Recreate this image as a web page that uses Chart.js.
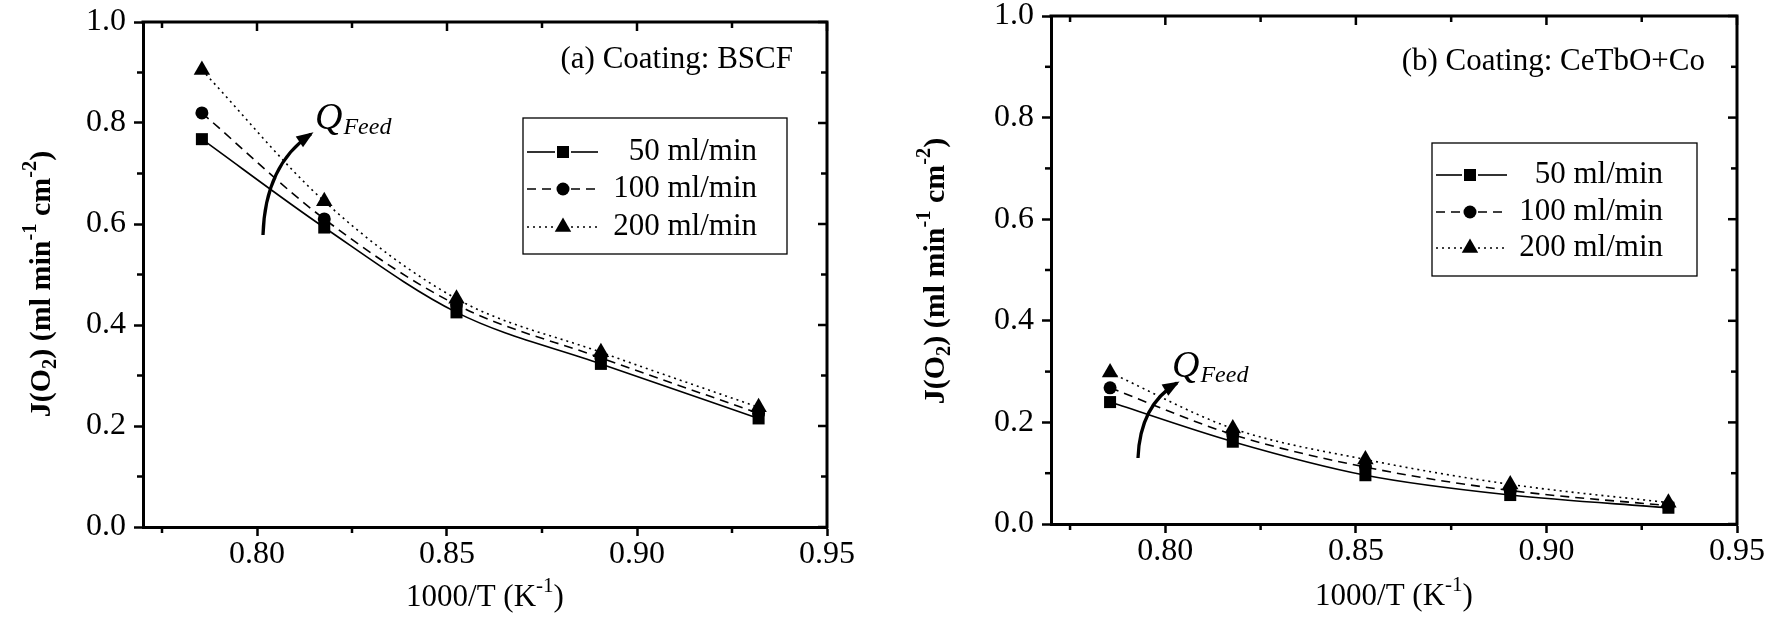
<!DOCTYPE html>
<html>
<head>
<meta charset="utf-8">
<script src="https://cdn.jsdelivr.net/npm/chart.js@4.4.1/dist/chart.umd.min.js"></script>
<style>
html,body{margin:0;padding:0;background:#fff;}
#wrap{position:relative;width:1780px;height:622px;overflow:hidden;}
canvas{position:absolute;top:0;}
</style>
</head>
<body>
<div id="wrap">
  <canvas id="chartA" width="890" height="622" style="left:0"></canvas>
  <canvas id="chartB" width="890" height="622" style="left:890px"></canvas>
</div>
<script>
// x축: 1000/T (K^-1)
const invT = [0.7855, 0.8177, 0.8525, 0.8905, 0.9320]
const seriesLabels = ['50 ml/min', '100 ml/min', '200 ml/min']

// (a) Coating: BSCF
const bscf50 = [0.768, 0.593, 0.425, 0.323, 0.215]
const bscf100 = [0.820, 0.610, 0.440, 0.335, 0.225]
const bscf200 = [0.905, 0.645, 0.452, 0.346, 0.237]

// (b) Coating: CeTbO+Co
const cetbo50 = [0.240, 0.162, 0.096, 0.057, 0.032]
const cetbo100 = [0.268, 0.176, 0.112, 0.066, 0.036]
const cetbo200 = [0.298, 0.188, 0.127, 0.078, 0.042]

// 눈금
const xTicks = [0.80, 0.85, 0.90, 0.95]
const xMinorTicks = [0.775, 0.825, 0.875, 0.925]
const yTicks = [0.0, 0.2, 0.4, 0.6, 0.8, 1.0]
const yMinorTicks = [0.1, 0.3, 0.5, 0.7, 0.9]

const FONT = "'Liberation Serif', 'Times New Roman', serif"
Chart.defaults.font.family = FONT
Chart.defaults.color = '#000'

// 선 종류 / 마커 (50: 실선+사각, 100: 파선+원, 200: 점선+삼각)
const styles = [
    { dash: [], point: 'rect', r: 8.5 },
    { dash: [9, 6], point: 'circle', r: 6.5 },
    { dash: [2, 4], point: 'triangle', r: 9.5 }
]

function richText(ctx, parts, size, bold, italic) {
    // parts: [{t, sub, sup}] -> 폭 계산 후 그리기용 배열
    const f = (s) => `${italic ? 'italic ' : ''}${bold ? 'bold ' : ''}${s}px ${FONT}`
    let w = 0
    const items = parts.map(p => {
        const s = (p.sub || p.sup) ? size * 0.68 : size
        ctx.font = f(s)
        const width = ctx.measureText(p.t).width
        const item = { t: p.t, font: f(s), dx: w, dy: p.sub ? size * 0.28 : p.sup ? -size * 0.38 : 0 }
        w += width
        return item
    })
    return { items, w }
}

function drawRich(ctx, parts, size, cx, cy, rot, bold) {
    const r = richText(ctx, parts, size, bold)
    ctx.save()
    ctx.translate(cx, cy)
    ctx.rotate(rot)
    ctx.textBaseline = 'middle'
    ctx.textAlign = 'left'
    r.items.forEach(it => {
        ctx.font = it.font
        ctx.fillText(it.t, -r.w / 2 + it.dx, it.dy)
    })
    ctx.restore()
}

const framePlugin = {
    id: 'frame',
    afterDraw(chart, args, o) {
        const ctx = chart.ctx
        const { left, right, top, bottom } = chart.chartArea
        const xs = chart.scales.x, ys = chart.scales.y
        const seg = (x1, y1, x2, y2) => { ctx.beginPath(); ctx.moveTo(x1, y1); ctx.lineTo(x2, y2); ctx.stroke() }
        ctx.save()
        ctx.strokeStyle = '#000'
        ctx.fillStyle = '#000'
        // 위, 오른쪽 테두리
        ctx.lineWidth = 3
        ctx.beginPath()
        ctx.moveTo(left - 1.5, top)
        ctx.lineTo(right, top)
        ctx.lineTo(right, bottom + 1.5)
        ctx.stroke()
        // 보조 눈금 / 안쪽 눈금
        ctx.lineWidth = 2.5
        xTicks.forEach(v => { const p = xs.getPixelForValue(v); seg(p, top, p, top + 9) })
        xMinorTicks.forEach(v => {
            const p = xs.getPixelForValue(v)
            seg(p, bottom, p, bottom + 6)
            seg(p, top, p, top + 6)
        })
        yTicks.forEach(v => { const p = ys.getPixelForValue(v); seg(right, p, right - 9, p) })
        yMinorTicks.forEach(v => {
            const p = ys.getPixelForValue(v)
            seg(left, p, left - 6, p)
            seg(right, p, right - 6, p)
        })

        // 범례
        const lg = o.legend
        ctx.lineWidth = 1.3
        ctx.strokeRect(lg.x, lg.y, lg.w, lg.h)
        chart.data.datasets.forEach((ds, i) => {
            const y = lg.y + lg.rows[i]
            ctx.lineWidth = 1.6
            ctx.setLineDash(ds.borderDash)
            seg(lg.x + 4, y, lg.x + lg.markX - 8, y)
            seg(lg.x + lg.markX + 8, y, lg.x + 75, y)
            ctx.setLineDash([])
            Chart.helpers.drawPoint(ctx, { pointStyle: ds.pointStyle, radius: ds.pointRadius, rotation: 0, borderWidth: 0 }, lg.x + lg.markX, y)
            ctx.font = `31px ${FONT}`
            ctx.textAlign = 'right'
            ctx.textBaseline = 'middle'
            ctx.fillText(ds.label, lg.x + lg.w - lg.textPad, y)
        })

        // 패널 제목
        ctx.font = `31px ${FONT}`
        ctx.textAlign = 'right'
        ctx.textBaseline = 'middle'
        ctx.fillText(o.panel.text, o.panel.x, o.panel.y)

        // Q_Feed
        ctx.textAlign = 'left'
        ctx.textBaseline = 'alphabetic'
        ctx.font = `italic 38px ${FONT}`
        ctx.fillText('Q', o.q.x, o.q.y)
        const qw = ctx.measureText('Q').width
        ctx.font = `italic 24px ${FONT}`
        ctx.fillText('Feed', o.q.x + qw + 1, o.q.y + 5)

        // 곡선 화살표
        const a = o.arrow
        ctx.lineWidth = 3.3
        ctx.beginPath()
        ctx.moveTo(a.p0[0], a.p0[1])
        ctx.quadraticCurveTo(a.c[0], a.c[1], a.p1[0], a.p1[1])
        ctx.stroke()
        const ang = Math.atan2(a.p1[1] - a.c[1], a.p1[0] - a.c[0])
        const L = 14, W = 6.5
        ctx.beginPath()
        ctx.moveTo(a.p1[0] + Math.cos(ang) * 3, a.p1[1] + Math.sin(ang) * 3)
        ctx.lineTo(a.p1[0] - Math.cos(ang) * L + Math.sin(ang) * W, a.p1[1] - Math.sin(ang) * L - Math.cos(ang) * W)
        ctx.lineTo(a.p1[0] - Math.cos(ang) * L - Math.sin(ang) * W, a.p1[1] - Math.sin(ang) * L + Math.cos(ang) * W)
        ctx.closePath()
        ctx.fill()

        // 축 제목
        drawRich(ctx, [{ t: 'J(O' }, { t: '2', sub: true }, { t: ') (ml min' }, { t: '-1', sup: true }, { t: ' cm' }, { t: '-2', sup: true }, { t: ')' }],
            30, o.yTitle[0], o.yTitle[1], -Math.PI / 2, true)
        drawRich(ctx, [{ t: '1000/T (K' }, { t: '-1', sup: true }, { t: ')' }],
            31, o.xTitle[0], o.xTitle[1], 0, false)
        ctx.restore()
    }
}

function makeChart(id, series, cfg) {
    const datasets = series.map((vals, i) => ({
        label: seriesLabels[i],
        data: invT.map((x, k) => ({ x, y: vals[k] })),
        borderColor: '#000',
        backgroundColor: '#000',
        borderWidth: 1.6,
        borderDash: styles[i].dash,
        pointStyle: styles[i].point,
        pointRadius: styles[i].r,
        pointHoverRadius: styles[i].r,
        pointBorderWidth: 0,
        cubicInterpolationMode: 'monotone'
    }))
    const tickFont = { size: 32, lineHeight: 1 }
    return new Chart(document.getElementById(id), {
        type: 'line',
        data: { datasets },
        plugins: [framePlugin],
        options: {
            responsive: false,
            animation: false,
            events: [],
            layout: { padding: cfg.padding },
            plugins: {
                legend: { display: false },
                tooltip: { enabled: false },
                frame: cfg
            },
            scales: {
                x: {
                    type: 'linear',
                    min: 0.77,
                    max: 0.95,
                    afterBuildTicks: s => { s.ticks = xTicks.map(v => ({ value: v })) },
                    afterFit: s => { s.height = cfg.xHeight; s.paddingLeft = 0; s.paddingRight = 0 },
                    ticks: { font: tickFont, color: '#000', padding: 3, maxRotation: 0, callback: v => v.toFixed(2) },
                    grid: { display: true, drawOnChartArea: false, drawTicks: true, tickLength: 9, tickWidth: 2.5, tickColor: '#000' },
                    border: { display: true, width: 3, color: '#000' }
                },
                y: {
                    min: 0,
                    max: 1,
                    afterBuildTicks: s => { s.ticks = yTicks.map(v => ({ value: v })) },
                    afterFit: s => { s.width = cfg.yWidth; s.paddingTop = 0; s.paddingBottom = 0 },
                    ticks: { font: tickFont, color: '#000', padding: 8, callback: v => v.toFixed(1) },
                    grid: { display: true, drawOnChartArea: false, drawTicks: true, tickLength: 9, tickWidth: 2.5, tickColor: '#000' },
                    border: { display: true, width: 3, color: '#000' }
                }
            }
        }
    })
}

makeChart('chartA', [bscf50, bscf100, bscf200], {
    padding: { top: 22, right: 63, bottom: 0, left: 0 },
    yWidth: 143, xHeight: 95,
    panel: { text: '(a) Coating: BSCF', x: 793, y: 60 },
    legend: { x: 523, y: 118, w: 264, h: 136, rows: [34, 71, 109], markX: 40, textPad: 30 },
    q: { x: 315, y: 129 },
    arrow: { p0: [263, 235], c: [265, 165], p1: [311, 134] },
    yTitle: [42, 284],
    xTitle: [485, 598]
})

makeChart('chartB', [cetbo50, cetbo100, cetbo200], {
    padding: { top: 16, right: 43, bottom: 0, left: 0 },
    yWidth: 161, xHeight: 98,
    panel: { text: '(b) Coating: CeTbO+Co', x: 815, y: 62 },
    legend: { x: 542, y: 143, w: 265, h: 133, rows: [32, 69, 105], markX: 38, textPad: 34 },
    q: { x: 282, y: 377 },
    arrow: { p0: [248, 458], c: [250, 405], p1: [287, 383] },
    yTitle: [46, 271],
    xTitle: [504, 597]
})
</script>
</body>
</html>
